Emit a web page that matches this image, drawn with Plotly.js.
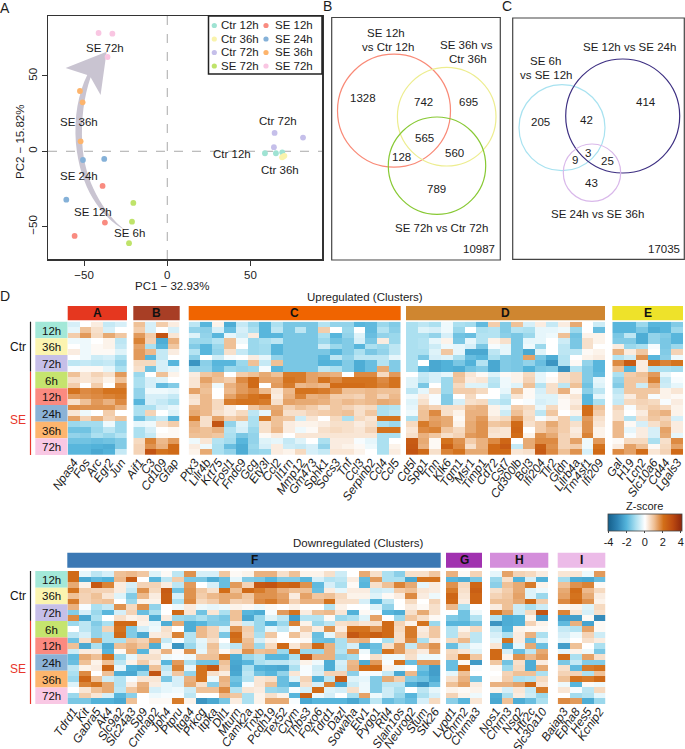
<!DOCTYPE html>
<html><head><meta charset="utf-8">
<script src="https://cdn.plot.ly/plotly-3.0.1.min.js"></script>
<style>html,body{margin:0;padding:0;background:#fff}</style></head>
<body><div id="chart" style="width:685px;height:749px"></div>
<script>
// ---- PCA points ----
const pcaNames=['Ctr 12h','Ctr 36h','Ctr 72h','SE 6h','SE 12h','SE 24h','SE 36h','SE 72h'];
const pcaColors=['#9fe3d3','#f9f3ac','#c5bfea','#bfe36a','#f98b80','#85b1d8','#fdb46c','#f9c6e2'];
const pc1=[[58.7,65.3,69.1],[69.7,70.4,69],[64.5,81.6,64.1],[-20.4,-21.2,-23],[-38.9,-37.5,-55.7],[-37.9,-50.7,-60.7],[-52.5,-50.9,-52.1],[-41.3,-33,-35.9]];
const pc2=[[-1.3,-1.3,-.7],[-3.5,-3,-4],[12.2,9.1,2.7],[-34.3,-46.7,-61],[-23,-47.3,-56.2],[-5.1,-5.8,-32.1],[40,32.5,6.6],[78.5,78.1,62.6]];
const legendLabels=['Ctr 12h','Ctr 36h','Ctr 72h','SE 72h','SE 12h','SE 24h','SE 36h','SE 72h'];
// ---- heatmap labels ----
const groupLabels=['12h','36h','72h','6h','12h','24h','36h','72h'];
const groupColors=['#a3e8d8','#fbf4b0','#c6bfe8','#c5e46e','#fb8a80','#8bb2d6','#fdb56e','#f9c8e4'];
const genesA=['Npas4','Fos','Arc','Egr2','Jun'];
const genesB=['Aif1','C3','Cd109','Gfap'];
const genesC=['Ptx3','Lilr4b','Krt75','Fosl1','Fndc9','Gcg','Ety3l','Ccl2','Il1rn','Mmp12','Gm473','Sphk1','Socs3','Tnf','Ccl3','Serpinb2','Ccl4','Ccl5'];
const genesD=['Cd5l','Spp1','Tnn','Klk6','Tgm1','Msr1','Timp1','Cd72','Cst7','Cd300lb','Bcl3','Ifi204','Tlr2','Gldn','Lilrb4a','Tm4sf1','Ifi209'];
const genesE=['Gal','H19','Lcn2','Slc10a6','Cd44','Lgals3'];
const genesF=['Tdrd1','Kit','Gabra5','Ak4','Slc9a2','Slc24a3','Sp9','Cntnap2','Jph4','Ptpru','Itga4','Prkcg','Itpka','Dll1','Mturn','Camk2a','Tnxb','Pcdh19','Tex52','Crym','Thbs3','Foxo6','Tdrd1','Dazl','Sowaha','Etv1','Pygo1','Rtl4','Slain1os','Neurog2','Stum','Stk26'];
const genesG=['Lypd1','Chrm2','Chrma3'];
const genesH=['Nos1','Chrm3','Nsg2','Htr2c','Slc30a10'];
const genesI=['Baiap3','Epha8','Hes5','Kcnip2'];
// ---- heatmap z-scores (24 rows each) ----
const zA=[[-.5,0,.3,-.7,-.5],[-.3,1,.5,-.5,0],[.8,1.5,.6,1.3,.9],[-.2,-.2,0,.2,-.8],[0,-.2,.1,.2,-.7],[.3,-.2,.1,.1,-.4],[0,-.2,-.6,-.5,-1],[-.8,-.7,-.8,-.7,-1.3],[-.1,.1,.1,-.3,-1],
[1,.4,.7,.5,1.5],[.5,.4,.5,.2,1],[.8,0,.8,0,1.7],[2,1.7,1.8,2,2],[1.5,1.6,1.7,1.8,1.9],[.5,1,1.5,1.2,1.7],[1.7,1.6,1.6,1.6,1.2],[.4,-.2,0,.8,0],[1.4,.7,1.2,.7,1],
[-1.2,-1.1,-1.1,-.2,-1.2],[-1.7,-1.7,-1.2,-.8,-1.2],[-1.3,-1.4,-1,-1.2,-.9],[-1.7,-1.7,-1.8,-1.7,-1.5],[-2,-2,-2.1,-2.2,-1.5],[-2,-2,-2.3,-2.1,-.7]];
const zB=[[1,-.5,.8,.3],[.8,-.5,0,-.5],[1.5,.8,2.8,.4],[1.8,.7,-2.2,1.2],[1.4,-1,-2,.9],[1.5,1.1,-.7,.3],[1.5,-2,-.7,0],[.6,.6,-.5,-2],[.5,-1.7,-.5,-.3],
[-1.2,0,1,.2],[-1,-.5,-.4,0],[-1,-.5,-1.9,-1.5],[-1.3,-.2,-.2,-.3],[-1.3,-.5,-.5,-.7],[-2,-.5,-.7,-1],[-1,-1,-.5,-.3],[-1,.7,0,-.4],[-1.7,-1,-.7,-2],
[-.3,-.2,.5,.8],[-1,-.5,0,.1],[-1,-.7,.1,.1],[.6,1.8,1.1,1.5],[.7,1.6,1.2,2.2],[.7,2.8,2,2.2]];
const zC=[[-.8,-2,.2,-2.2,-.7,-1.2,-2,-1,-1.6,-1.6,-1.6,-.9,-1.3,-1.3,-2,-1.9,-1.2,-1.5],
[-1.3,-1.4,-.5,-1.8,-.5,-1,-2,-.8,-1.6,-.8,-1.6,.8,0,-1.2,0,-1.9,-.9,-1.4],
[-.4,-1.3,-2,-.3,-.6,.3,-2,-2,-1.6,-1.6,-1.6,-1,-2,-1.3,-.4,-1.8,-1.3,-1.2],
[-1.2,-1.2,-.9,1,-.2,-1.2,-1,-.8,-1.6,-1.6,-1.6,-1.2,-1.7,-1.5,-.5,-1.6,.3,-1.2],
[-1.5,-2,-1.2,1,0,-1.2,-1.1,-2,-1.6,-1.6,-1.6,-.6,-1.2,-1.5,-2,-1,-1.2,-.8],
[-.9,-2,-1.3,.5,-.7,-1.2,-1.1,-2,-1.6,-1.6,-1.6,-1.6,-2,-1.5,-1,-1.6,-1.3,-.8],
[-1.4,0,-.6,-.1,0,.3,-.3,-1.3,-1.6,-1.6,-1.6,-2,-.8,-1.3,-.8,-.8,-.8,-.3],
[-2.7,-1.4,-2,-2,-1.2,1,-.7,1,-1.6,-1.6,-1.6,-2.1,-2,-1.5,-2.2,-1.8,-.9,-1.5],
[-1.3,-1.3,-1.9,-1.2,-1.3,-1.2,-.1,-2,-1.6,-1.6,-1.6,-.8,-1,-1.5,-2.2,-1.8,1.3,-1.5],
[.3,.9,1.1,0,.8,1,1.3,1,1.9,1.9,1.4,1.3,1.2,0,1.7,1.7,.6,1.5],
[.4,1.4,1,.8,1.7,2.2,1.4,1.4,2,1.9,1.4,2,1.7,2,2,2,1.7,2],
[.4,1.1,-.2,1.2,1.5,2.2,0,1.5,1.9,1.1,1.2,1.1,2.1,2.1,2.1,2,1.8,2],
[1.4,1,0,1.1,1.5,1.7,1.1,.4,1.1,2,2,1.9,1.6,1,1,1.1,1,1],
[.5,1.1,0,1.4,1.8,2,2.2,.3,1.2,1.8,1.2,1.3,.8,.8,.7,1.1,.7,1.1],
[.4,1.1,.6,1.9,2,2,1.9,.5,1.4,1.3,1.3,1.2,.9,1.1,1,1.1,1.3,1.2],
[1.2,1.1,.6,.3,0,.9,1.2,1.3,.7,1,.8,.5,.9,.7,.5,.6,-1,-.9],
[1.3,1.1,.5,.3,.6,-.8,-.3,1.4,.5,.5,.7,.8,.9,1,.5,.9,-1,-.8],
[1.9,.5,1.4,.8,1,-1,1.9,1,.9,-.6,.4,0,.6,-1,.6,.4,2,2],
[1.2,.5,2.8,-1.3,-.4,-1,.5,1,.3,.2,.2,.3,.5,.5,.3,.5,-1,-1.2],
[1.1,1,1.2,-.9,-.5,-1.2,.5,1.1,.3,-.2,.1,.5,.6,.5,.4,.7,2,2],
[1,1,.9,-1,-1.6,-1.3,.1,.3,0,.4,.4,.4,.4,.4,.4,.4,-1,-1],
[-.2,.4,-.9,-1.1,-2,-1.3,-.4,-.3,-.7,-.4,0,-1,.3,.3,-.1,-.3,-1,0],
[.3,-.2,-1,-1.8,-2.2,-1.2,-.5,.3,-.6,-.7,-.5,-1.3,.3,.2,.1,-.2,-1,.2],
[.2,1.3,-1,-1.3,-2.2,-1.3,-1.2,.3,.2,.6,-.5,-.7,.4,.4,.2,0,-1,.3]];
const zD=[[-1,-.8,-1,-.2,-1,-1.1,-1.9,.8,-1.5,1,-.5,.3,-.7,.3,1.3,0,-.6],
[-1,-.4,-.5,-.2,-1.2,0,-1,-.9,-1.5,-.9,-1,-.3,-.3,-.2,-1.2,0,-1.8],
[-1,-1,-1.3,-.5,-1.7,-1.8,-.9,-.9,-1.4,-1.6,-1.2,-.3,-.2,1,-1.7,.2,.2],
[-1,-.9,-.3,.2,-1.6,-.3,-.9,.2,.5,-1.6,-.3,-.3,0,-.6,-1.6,.5,.2],
[-1,-.9,-.6,-.2,-.3,-.5,-1.6,-.1,-.3,-1.6,-.2,-1.2,0,-.8,-1.6,.5,0],
[-1,-1,-.4,.9,-.3,-2.3,-2.3,-.8,-.3,-1.6,-2.3,-.4,0,-.8,-.8,.1,.2],
[-1,-1.6,-.5,-.4,-1,-1.8,-2,-1,-1.5,-1.6,1.4,-1.6,-2.2,-.9,0,.2,.3],
[-1,0,-2.3,-2.1,-1.6,-2.1,-.9,-2.3,-1.5,-1.6,-1.3,-1.8,-2.7,-.9,.1,-1.3,-2],
[-1,-2,-2.3,-2.1,-2.2,-1.7,-1.5,-2.3,-1.5,-1.6,-2.1,-1.6,-1.5,-2.8,-.9,-1.5,-2],
[0,-.7,-.5,-.3,1,.4,.1,-.4,.1,.2,.6,-.3,0,.5,.7,-1.5,-1.9],
[-.4,-.8,-.5,-1.2,.9,.3,.4,-.8,-.2,.2,.7,-.3,.1,.5,.7,-1.5,-.3],
[-.4,-1.6,0,-1.2,.6,-.4,-.4,-.9,-.2,-.4,1,-.9,.5,-.8,1,-1.7,-.4],
[-.8,-.3,.5,-1.2,.8,.8,.6,0,-.3,1,.1,-.5,.5,1.2,.1,-1.4,-.8],
[-.2,.3,-.1,-1.5,0,.6,0,0,-.7,.4,.1,-.4,-.4,.2,.4,-2,-.3],
[-.4,.5,-.1,-1.5,-.5,.5,.6,-.7,-.9,0,-.1,-.5,-.4,.1,.3,-2,-1],
[-.3,.9,.7,.5,.5,1.1,1.2,.2,-.3,.8,.6,-.3,.6,.1,.5,2.1,1],
[-.2,1,1.7,.5,.2,1.2,1.2,.2,-.6,1,.5,-.8,.9,0,.2,2.1,.8],
[-1,1,1.4,1.3,.1,1.2,1.5,.4,.6,1.5,.6,-.1,.3,.8,-.8,1.5,.5],
[.6,1.9,1.5,1.3,.2,1.3,1.6,.9,1,2.2,.5,.8,1.3,.8,.5,1.6,.4],
[.4,1.7,1.8,.9,.6,1.3,1.6,.5,.4,2.3,0,.8,1.1,.8,.3,1.6,.2],
[.5,1.2,.9,.5,.7,1.5,1.6,.4,.4,2.1,.2,1.6,1.3,.7,.4,1.8,.2],
[2.6,1.3,.1,2,1.6,.8,1.2,1.7,2.3,0,1.3,1.7,1.7,.7,1.4,-.2,1.5],
[2.7,1.2,.1,2.4,1.7,.5,1.2,2.2,2.6,-.7,1.3,2.5,1.6,.7,.8,-.2,2],
[2.8,2.2,.5,1.8,2,1.3,1.3,2.2,2.2,.4,.5,2.6,1.7,1,1.6,-.5,2.2]];
const zE=[[-2,-2,-1.2,-2,-2,-1.5],[-2,-2,-1.6,-2.2,-2,-1.2],[-1.6,-.8,-2.2,-1.3,-1.5,-2],[-1.5,-1.5,-2.2,-1.3,-1.6,-2],[.3,-1.2,-1,-.1,-1.6,-1.2],[1.2,.3,.9,0,-1.5,.7],[-.9,-.6,1.6,-2,-1.4,-.2],[1.7,2.6,.3,2.1,1.8,2],[1,-2,.3,-1,-1,-1.1],
[-1,.8,1,1.5,-.3,0],[-1.3,.9,.9,1.8,-.7,-.1],[-1.5,.9,-.6,1.2,-.6,-.3],[-.8,.9,.9,.9,.2,.4],[-.6,.3,.9,-.1,.2,.1],[-.7,.6,.7,.6,-.1,.3],[.7,-.1,.6,.8,.6,.2],[.5,0,.3,1,1.2,.2],[.5,-.9,.5,.9,.7,-.5],
[1.1,.1,-.5,.5,.9,.3],[1.1,-.3,.3,-.5,1.4,.3],[1.1,-.1,.3,-.5,1.3,-.3],[.1,.6,.6,-1,.5,1.7],[.3,1.4,1,.1,.6,1.4],[1.7,1.4,2.1,.4,.7,2.2]];
const zF=[[2.2,-.3,-.8,-.5,1,1.1,.9,-.4,.1,-.8,1.6,-.5,-.5,.9,.1,.2,1.2,1.2,.5,1,.2,.2,.5,-.6,0,1.3,.5,-1,-1.4,.5,.5,.9],
[2.2,-2.3,-1.9,-2.1,1.1,2.6,0,-2,-.8,.8,-1.6,-1.6,-2.2,-1.8,-.3,-1.5,-1.6,-2,-1.5,-1.5,-2,-.5,-.9,-.8,.3,-1.9,1.5,-1,-1,-2.3,2,2],
[1.3,.2,2.7,1.8,.3,-.5,.7,.7,.3,-.8,1.5,0,-.5,-1.8,1.5,.7,2.7,2.8,2.3,2.4,1.6,-1.9,-.5,-1,.1,-2,.5,1,1.8,1.3,-.3,.3],
[2,.8,.7,.7,.3,-.7,1.6,.6,2.6,-1.7,1.6,.9,.5,2.1,1,2.2,1.9,1.6,1.2,1,1,-1.8,.3,-.3,.3,.3,-.6,-.5,.8,1,.4,.3],
[1,.7,1,.4,-.4,-1.5,1.1,.3,2.5,-.5,1.6,.8,1.1,1.3,1.3,.9,1.6,1.6,1.4,.3,1.4,.9,1,.6,.2,.2,-.4,.1,.3,1.7,.3,-.2],
[1.9,.7,.9,1,0,-1.2,.2,.2,2.5,-1,1.7,.6,.8,1.3,.7,.8,1.7,1.9,1.5,.7,1.2,1.2,2,.5,.5,-.5,-2,-.8,0,.6,0,.7],
[1.2,-.1,-1,-.7,1.6,.6,1.6,-1.3,0,-.2,.3,-.2,-.3,-.2,.2,.1,-.2,.1,0,.2,0,0,-.9,.2,0,0,-.4,-1.3,0,.3,.1,.5],
[-1.5,-.5,-1.2,-2,-.5,.7,-1.8,-1,0,2.2,.4,-1.7,.4,-1,1,-2,-2.2,-.1,1.5,2,.3,1,1.1,.4,-2.1,.1,-.1,-2,-2.2,.5,1.3,.5],
[1.7,-2.3,-1,0,.5,.2,.3,-2.2,.3,-1.2,-1.3,-1,-1.4,-1.6,1,-2.3,-1.2,-.4,-.8,-2.5,-.9,-.9,.1,-1.2,-1,-.4,1.4,0,-1.2,.9,.5,.1],
[-1.2,-.8,-1.5,-1,2.2,2.2,.2,-.3,-2.2,1.3,-2.2,-2,-1.5,-1.5,.4,-.6,-1.2,-2.1,-1.2,1.8,.2,-1.2,-.8,.5,.6,.4,.5,2.2,.7,.2,2,-1.2],
[0,-.8,-1.3,.7,2,-1.5,-.5,-.2,.5,0,-2.2,1.1,.7,-.4,1.6,.8,-1.2,-.3,-.7,-.1,.8,.3,1.6,.3,2,2,1.6,2.2,.6,1.9,.3,.9],
[-.8,-.5,-1.3,-1,2.2,-1.5,-2.3,.3,.4,1.8,-.9,1.1,.7,-1.6,2.2,.7,-1,.9,0,1,.3,-1.8,-.3,.8,2.7,2.2,2.5,2.2,.5,1.9,.4,.9],
[-1.7,.5,1.5,-1,-1,.9,.7,1.4,-.7,-.1,-.9,-.3,.5,0,2,1,-.5,.2,0,0,.1,-1.7,-1.8,-1,1.1,1.2,-.1,-1,.5,1.7,-1,.3],
[1,-2.3,-1,-2.2,1,1.2,.9,-2.2,-.2,-2.7,-1.2,-.4,1,-.4,-.8,1.1,-1.2,.6,2.2,.4,1,2.2,1.2,-1,-.5,-2.2,-1.8,.5,1.5,-.7,1.1,1.6],
[-.6,.3,.3,-2,.1,1.3,-2,.3,1.2,.1,1.6,-.3,.9,.1,.5,1.6,1,1.1,-1.2,2.2,-1.2,-1.2,1.2,-.9,1.5,-.2,-1.7,2,1.5,.6,.3,1.4],
[-1.9,1.3,1,2,-1.2,-.3,.5,.5,-.2,-.1,-.2,1,1,1.9,-2.2,-1.2,-.9,-2,-2,-1,2.7,1.2,1.2,-1.3,-1.1,0,.5,-.2,-.2,.5,-.2,-.2],
[-1.8,1,.2,1,-.8,.2,.8,.3,-2,1.5,-1,-1.7,-1.7,1,-2.3,-2,-1,-.8,-.8,-.6,.2,-.2,-2.2,-.5,1.1,-2.2,1.5,-.1,2,-1.8,1.5,1.5],
[-.8,.2,.3,2.3,-.3,-2.1,-2.3,1,-.8,1.8,-.3,2,2.7,.8,-2.4,-1,-2.1,-2.2,-2.3,-1,-.1,-.6,-2.2,-.6,1.2,2.1,2.2,.2,-.2,0,-1.7,-2.5],
[-1,1.7,0,1,-2.2,-2.3,-1.2,2.8,-.5,.9,-1.3,2,.5,.3,-2.3,-.8,-1.7,-2,-1.3,.4,-.1,-.5,.7,.7,-1.4,-.1,-.1,-.7,-2.3,1.1,-2,-2.5],
[-1.2,2.3,1,-.6,-.9,-.1,.4,.4,-1.6,-.5,1.2,2,-.2,1.2,-1.7,-.9,.4,.5,-1.8,-.4,.7,-2.1,-.8,2.6,-.4,-.3,-1.5,1.3,.8,-1.5,-1.7,-2.3],
[-.4,1.8,2,1.3,-.9,.3,1.2,.3,-.3,-.5,1.3,.5,-1.4,1.1,-1.9,-.1,.4,1,-1.8,-2.2,.5,-.5,1.8,-2.3,-.6,-.2,-1.5,-.8,-.8,-2.2,-2.7,-1.8],
[0,.4,1,1.3,-.8,.9,1.3,-.5,-.3,-.2,-.6,1,1,1.7,-.9,.4,.3,-1.2,-1.3,-.1,-.5,2.1,-.4,-.5,.5,-.2,-1.5,-.6,-1,0,-.8,-.3],
[-1.2,.8,.4,-.5,-2,-1.4,0,-.2,-.1,-.1,-.8,0,0,1.1,.9,-1,.2,.5,.2,-2,2.4,-.2,-.5,0,-1,1.4,-.2,-.6,-1.2,-2,-1,-.5],
[-1.6,-1.6,-2.1,-2.1,-2.3,1,0,.1,.1,1.9,.2,-2.7,-2.3,-1.6,.3,-1,.2,1.3,1.3,-.1,-2.3,-2,-2,-2,-2.3,-1.8,-.8,-1.8,-1.5,-1.8,-.5,.6]];
const zG=[[1.2,.1,.7],[-2,-2.2,-1.6],[1.6,.6,2.3],[1.9,.5,2.5],[2.3,.4,2.3],[2.2,.3,2.3],[1.1,-1,0],[0,-1.7,-.2],[-1.5,-1.7,-.9],[-2,-2,-1.6],[-.9,.2,.6],[-.9,.5,-.8],[.6,1.1,-.8],[-1.8,-.6,-.2],[.6,.4,-.4],[.7,2,.9],[-1.8,.1,-2.6],[-1.8,2.1,-.1],[-.3,1,0],[.5,1.2,-1.7],[1,1.4,.3],[.2,.1,.2],[.7,.2,-.2],[-1.4,-2,.4]];
const zH=[[-.3,1.4,.7,.6,.3],[-1.2,.5,-2.1,-.5,-2.1],[-1.4,1,1.3,1.9,.2],[.5,.8,1.3,-.4,-.2],[.7,.9,1.4,-.4,-1.2],[1,1,1.3,2.2,.8],[.3,1,-.6,-1,-.6],[2,1.4,-.6,.6,2.8],[-.9,-2.2,-2.1,.2,-2.5],[-2.7,-2.2,-2.1,.7,.2],[-.8,-2.1,.2,.1,.1],[-.5,-1,.3,1.2,-1],[-.3,2,.3,-1.8,-.4],[.4,-2.3,-.3,1.3,-1.8],[2.2,-.5,-1.8,-.8,1.3],[2.2,.2,1.6,1.1,1.5],[.9,-1.7,.5,-2.2,.3],[.1,-1.2,.6,-2.2,1.3],[0,.7,1,1,-1],[.1,.8,-1,-.9,.6],[1.2,1.2,1.4,2.2,.4],[.2,-.5,.4,-.7,1.9],[-2.2,-1,.3,-.6,-1.2],[-2.3,1,-2.2,-1.8,-1]];
const zI=[[.4,.4,-.2,1.5],[-1.1,-2.2,-2.3,-1.8],[1,1.6,1.8,.1],[1.3,2.1,1.1,.6],[1.4,2,1.3,.3],[1.7,2.1,1.6,.2],[.1,.2,-.4,.6],[1.8,.4,-.5,.5],[-2.5,-2.5,.1,-2.9],[-1.9,1.2,-2.4,.1],[-.7,-.9,1.4,.1],[-.5,-.2,.7,-.6],[-.3,0,.5,.3],[-2.5,1,0,-1],[-.3,.2,-.2,-1.6],[2.1,-1,1.4,.5],[-1.6,-.7,-1.5,-1.5],[.5,-1.9,1.9,2],[.7,.7,-1,1],[1,2,1.9,2.2],[-.2,-2,.1,-.2],[.4,-.1,-.8,.6],[0,-1.1,-.9,-.3],[1.7,1.5,-2.2,-1.2]];

// ---- layout helpers (pixel -> paper) ----
const W=685,H=749,FONT='"Liberation Sans",Arial,sans-serif',INK='#1c1c1c';
const px=x=>x/W, py=y=>1-y/H;
const shapes=[],annos=[],traces=[];
function label(x,y,text,o={}){annos.push(Object.assign({xref:'paper',yref:'paper',x:px(x),y:py(y),text,showarrow:false,xanchor:'center',yanchor:'middle',font:{family:FONT,size:11.5,color:INK}},o));}
function rect(x0,y0,x1,y1,fill,line){shapes.push({type:'rect',xref:'paper',yref:'paper',x0:px(x0),x1:px(x1),y0:py(y0),y1:py(y1),fillcolor:fill||'rgba(0,0,0,0)',line:line||{width:0}});}
function circle(cx,cy,r,color,w){shapes.push({type:'circle',xref:'paper',yref:'paper',x0:px(cx-r),x1:px(cx+r),y0:py(cy+r),y1:py(cy-r),line:{color,width:w||1.2}});}

const layout={width:W,height:H,margin:{l:0,r:0,t:0,b:0},paper_bgcolor:'#fff',plot_bgcolor:'#fff',showlegend:false,font:{family:FONT,size:11.5,color:INK},shapes,annotations:annos};

// ---- panel A ----
const axCommon={showgrid:false,zeroline:false,showline:true,mirror:true,linecolor:'#333',linewidth:1.5,ticks:'outside',ticklen:5,tickcolor:'#333',tickfont:{family:FONT,size:11.5,color:INK},fixedrange:true};
layout.xaxis=Object.assign({},axCommon,{domain:[px(48),px(322)],anchor:'y',range:[-71.7,93],tickvals:[-50,0,50]});
layout.yaxis=Object.assign({},axCommon,{domain:[py(259),py(16)],anchor:'x',range:[-71.5,89.8],tickvals:[-50,0,50],tickangle:-90});
label(171.5,285.5,'PC1 − 32.93%');
label(20,142,'PC2 − 15.82%',{textangle:-90});
pcaNames.forEach((n,i)=>traces.push({type:'scatter',mode:'markers',name:n,x:pc1[i],y:pc2[i],xaxis:'x',yaxis:'y',marker:{color:pcaColors[i],size:5.8},hoverinfo:'name'}));
shapes.push({type:'line',xref:'x',yref:'paper',x0:0,x1:0,y0:py(259),y1:py(16),line:{color:'#aaa',width:1,dash:'dash'},layer:'below'});
shapes.push({type:'line',xref:'paper',yref:'y',x0:px(48),x1:px(322),y0:0,y1:0,line:{color:'#aaa',width:1,dash:'dash'},layer:'below'});
// curved arrow
const ZX=v=>(v-502)/4.99, ZY=v=>(454-v)/4.52;
const arrowPts=[['M',375,690],['C',300,650,240,560,228,430],['C',222,350,235,280,262,225],['L',197,204],['L',320,155],['L',302,285],['L',272,232],['C',252,290,243,360,247,430],['C',252,540,310,640,375,690]];
shapes.push({type:'path',xref:'x',yref:'y',layer:'below',fillcolor:'#c9c4d1',line:{width:0},path:arrowPts.map(p=>{let s=p[0];for(let i=1;i<p.length;i+=2)s+=' '+ZX(p[i]).toFixed(2)+' '+ZY(p[i+1]).toFixed(2);return s;}).join(' ')+' Z'});
[['SE 72h',104.5,48],['SE 36h',78.5,122],['SE 24h',79,176.5],['SE 12h',92.5,211.5],['SE 6h',129.5,233],['Ctr 72h',278,121],['Ctr 12h',232,154],['Ctr 36h',280,170]].forEach(t=>label(t[1],t[2],t[0]));
// legend box
rect(208.5,16,322,74,'#fff',{color:'#222',width:1.5});
const legX=[214.3,266],legY=[25.5,39,52.5,66];
legendLabels.forEach((t,i)=>{const c=i<4?0:1,r=i%4,colorIdx=i;
  shapes.push({type:'circle',xref:'paper',yref:'paper',x0:px(legX[c]-2.6),x1:px(legX[c]+2.6),y0:py(legY[r]+2.6),y1:py(legY[r]-2.6),fillcolor:pcaColors[colorIdx],line:{width:0}});
  label(legX[c]+4.6+(c?2.4:0),legY[r],t,{xanchor:'left'});});

// ---- panels B, C ----
rect(331.7,17.5,500.3,260,null,{color:'#444',width:1.2});
rect(512.7,18,684.3,259.3,null,{color:'#444',width:1.2});
circle(394,110.7,56.5,'#f98a77');circle(446.7,116.7,49.3,'#eded8f');circle(437,165.7,48.7,'#88c934');
circle(562,127.7,43,'#a8e2f0');circle(622.7,116,57,'#3d2f82');circle(592,172.7,28.7,'#d9b8ea');
[['SE 12h',386,33],['vs Ctr 12h',387.5,47],['SE 36h vs',466,45],['Ctr 36h',467.5,59],['1328',362.5,98],['742',423.5,102],['695',468.5,102],['565',424,138],['128',401.5,157],['560',454,152.5],['789',436,189],['SE 72h vs Ctr 72h',441.5,228],['10987',479,248.5],
 ['SE 6h',545.5,61.5],['vs SE 12h',545.5,75.5],['SE 12h vs SE 24h',629.5,47],['205',540.5,122.5],['42',586.5,120.5],['414',646,102],['3',588,152.5],['9',574.5,160],['25',607,161],['43',591.5,182.5],['SE 24h vs SE 36h',597,214],['17035',664,248.5]].forEach(t=>label(t[1],t[2],t[0]));
label(5,8,'A',{font:{family:FONT,size:14,color:INK}});label(327,6,'B',{font:{family:FONT,size:14,color:INK}});label(506.5,6,'C',{font:{family:FONT,size:14,color:INK}});label(5,296,'D',{font:{family:FONT,size:14,color:INK}});

// ---- panel D ----
const colorscale=[[0,'#155f8a'],[.125,'#2d83b4'],[.25,'#54b4db'],[.375,'#aadff0'],[.5,'#ffffff'],[.625,'#efbf94'],[.75,'#d36f18'],[.875,'#bd4a10'],[1,'#8c260c']];
const rowIdx=Array.from({length:24},(_,i)=>i);
let axisN=2;
function heat(name,genes,z,x0,x1,y0,y1,barColor,barY0,barY1,withBar){
  const k=axisN++;
  const t={type:'heatmap',name:'Cluster '+name,z,x:genes.map((_,i)=>i),y:rowIdx,zmin:-4.1,zmax:4.1,colorscale,showscale:false,xaxis:'x'+k,yaxis:'y'+k,hoverinfo:'z'};
  if(withBar){t.showscale=true;t.colorbar={orientation:'h',x:px(644.7),xanchor:'center',y:py(502),yanchor:'top',len:74,lenmode:'pixels',thickness:17,thicknessmode:'pixels',xpad:0,ypad:0,outlinewidth:.8,outlinecolor:'#444',tickmode:'array',tickvals:[-4,-2,0,2,4],ticktext:['-4','-2','0','2','4'],ticks:'outside',ticklen:2,tickfont:{family:FONT,size:11,color:INK},title:{text:'Z-score',side:'top',font:{family:FONT,size:11,color:INK}}};}
  traces.push(t);
  layout['xaxis'+k]={domain:[px(x0),px(x1)],anchor:'y'+k,range:[-.5,genes.length-.5],tickmode:'array',tickvals:genes.map((_,i)=>i),ticktext:genes,tickangle:-55,ticks:'',ticklen:0,ticklabelstandoff:-3,showgrid:false,zeroline:false,showline:false,fixedrange:true,tickfont:{family:FONT,size:12,style:'italic',color:INK}};
  layout['yaxis'+k]={domain:[py(y1),py(y0)],anchor:'x'+k,range:[23.5,-.5],visible:false,fixedrange:true};
  rect(x0,barY0,x1,barY1,barColor);
  label((x0+x1)/2,(barY0+barY1)/2,'<b>'+name+'</b>',{font:{family:FONT,size:12,color:'#111'}});
}
const upY=[321.7,455],upBar=[306,320.3],dnY=[571,704],dnBar=[552.7,567.7];
heat('A',genesA,zA,67.7,127,upY[0],upY[1],'#e5371f',upBar[0],upBar[1],true);
heat('B',genesB,zB,133.3,179.7,upY[0],upY[1],'#a83e25',upBar[0],upBar[1]);
heat('C',genesC,zC,188.7,400.7,upY[0],upY[1],'#f06400',upBar[0],upBar[1]);
heat('D',genesD,zD,406,605,upY[0],upY[1],'#cf8630',upBar[0],upBar[1]);
heat('E',genesE,zE,612.3,683,upY[0],upY[1],'#eee22a',upBar[0],upBar[1]);
heat('F',genesF,zF,67.3,440.7,dnY[0],dnY[1],'#3b78b4',dnBar[0],dnBar[1]);
heat('G',genesG,zG,446,482,dnY[0],dnY[1],'#a132b0',dnBar[0],dnBar[1]);
heat('H',genesH,zH,490,548.3,dnY[0],dnY[1],'#d48edb',dnBar[0],dnBar[1]);
heat('I',genesI,zI,557.7,605.3,dnY[0],dnY[1],'#ecbbe8',dnBar[0],dnBar[1]);
label(365,296.7,'Upregulated (Clusters)');
label(358,543,'Downregulated (Clusters)');
[[upY],[dnY]].forEach(a=>{const [y0,y1]=a[0],h=(y1-y0)/8;
  groupLabels.forEach((g,i)=>{rect(35.3,y0+h*i,67.5,y0+h*(i+1),groupColors[i]);label(51.5,y0+h*(i+.5)+.5,g,{font:{family:FONT,size:11.5,color:'#111'}});});
  shapes.push({type:'line',xref:'paper',yref:'paper',x0:px(30.5),x1:px(30.5),y0:py(y0),y1:py(y0+3*h),line:{color:'#222',width:1.2}});
  shapes.push({type:'line',xref:'paper',yref:'paper',x0:px(30.5),x1:px(30.5),y0:py(y0+3*h),y1:py(y1),line:{color:'#e8372c',width:1.2}});
  label(18,y0+1.5*h,'Ctr',{font:{family:FONT,size:12,color:'#111'}});
  label(18,y0+5.9*h,'SE',{font:{family:FONT,size:12,color:'#e8372c'}});
});
Plotly.newPlot('chart',traces,layout,{displayModeBar:false,staticPlot:true});
</script></body></html>
